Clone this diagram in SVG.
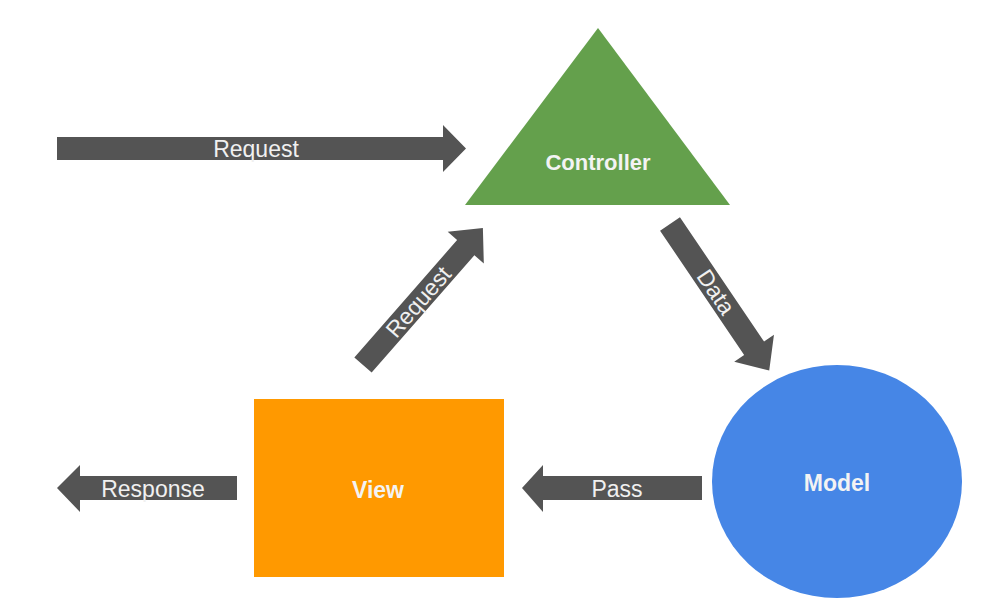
<svg xmlns="http://www.w3.org/2000/svg" width="1002" height="616" viewBox="0 0 1002 616">
<style>
.arrow{fill:#545454}
.lbl{font-family:"Liberation Sans",Arial,sans-serif;font-size:23px;fill:#f0f0f0;text-anchor:middle}
.node{font-family:"Liberation Sans",Arial,sans-serif;font-size:23px;font-weight:bold;fill:#f3f3f3;text-anchor:middle}
</style>
<rect width="1002" height="616" fill="#ffffff"/>
<g id="connectors">
  <g id="req-top">
    <polygon class="arrow" points="57,137 443,137 443,125 466,148.5 443,172 443,160 57,160"/>
    <text class="lbl" x="256" y="156.5">Request</text>
  </g>
  <g id="req-diag" transform="translate(363,365) rotate(-48.8)">
    <polygon class="arrow" points="0,-11.5 156,-11.5 156,-24 182,0 156,24 156,11.5 0,11.5"/>
    <text class="lbl" x="84" y="8">Request</text>
  </g>
  <g id="data" transform="translate(670,224) rotate(55.9)">
    <polygon class="arrow" points="0,-12 150,-12 150,-24 177,0 150,24 150,12 0,12"/>
    <text class="lbl" x="82" y="8">Data</text>
  </g>
  <g id="pass">
    <polygon class="arrow" points="702,476 543,476 543,465 522,488 543,512 543,500 702,500"/>
    <text class="lbl" x="617" y="496.5">Pass</text>
  </g>
  <g id="response">
    <polygon class="arrow" points="237,476 80,476 80,465 57,488 80,512 80,500 237,500"/>
    <text class="lbl" x="153" y="497">Response</text>
  </g>
</g>
<g id="controller">
  <polygon points="598,28 730,205 465,205" fill="#64a04c"/>
  <text class="node" x="598" y="170" style="font-size:22px">Controller</text>
</g>
<g id="view">
  <rect x="254" y="399" width="250" height="178" fill="#ff9900"/>
  <text class="node" x="378" y="497.5">View</text>
</g>
<g id="model">
  <ellipse cx="837" cy="481.5" rx="125" ry="116.5" fill="#4686e6"/>
  <text class="node" x="837" y="490.5">Model</text>
</g>
</svg>
